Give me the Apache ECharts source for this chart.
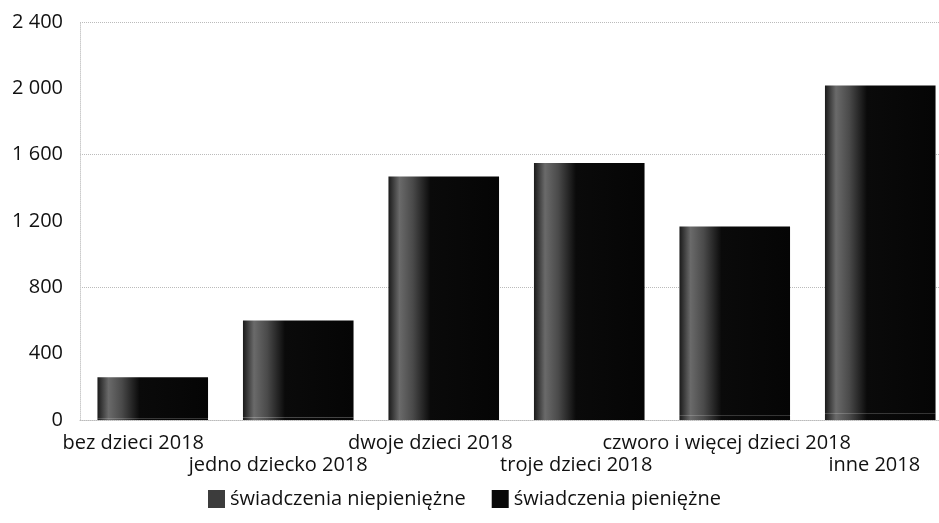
<!DOCTYPE html>
<html><head><meta charset="utf-8">
<script src="https://cdn.jsdelivr.net/npm/echarts@6/dist/echarts.min.js"></script>
<style>html,body{margin:0;padding:0;background:#fff}#c{width:939px;height:523px}</style>
</head><body><div id="c"></div>
<script>
const categories = ["bez dzieci 2018","jedno dziecko 2018","dwoje dzieci 2018","troje dzieci 2018","czworo i więcej dzieci 2018","inne 2018"];
const niepieniezne = [8, 15, 30, 30, 25, 40];
const pieniezne = [250, 585, 1439, 1520, 1142, 1977];
const yTicks = [0, 400, 800, 1200, 1600, 2000, 2400];

const labelShift = [39, 40, 27, 26, 16, 12];
const grad = new echarts.graphic.LinearGradient(0,0,1,0,[
  {offset:0,color:'#1a1a1a'},{offset:0.1,color:'#6a6a6a'},{offset:0.22,color:'#4a4a4a'},{offset:0.38,color:'#0a0a0a'},{offset:1,color:'#050505'}]);
const chart = echarts.init(document.getElementById('c'));
const fmtNum = v => String(v).replace(/\B(?=(\d{3})+(?!\d))/g,' ');
chart.setOption({
  animation:false,
  textStyle:{fontFamily:'Open Sans'},
  legend:{bottom:9,left:203,icon:'rect',itemWidth:17,itemHeight:18,itemGap:26,
    textStyle:{fontSize:20,color:'#111',fontFamily:'Open Sans'},
    data:[{name:'świadczenia niepieniężne',itemStyle:{color:'#3c3c3c'}},{name:'świadczenia pieniężne',itemStyle:{color:'#080808'}}]},
  grid:{left:80,top:22,width:873,height:398,outerBoundsMode:'none',containLabel:false},
  xAxis:{type:'category',data:categories,
    axisLine:{show:true,lineStyle:{color:'#bbb',type:'dotted'}},axisTick:{show:false},
    axisLabel:{interval:0,margin:12,color:'#111',fontSize:20,lineHeight:22,
      formatter:(v,i)=> (i%2===1?'\n':'') + '{s'+i+'|'+v+'}',
      rich:Object.fromEntries(labelShift.map((p,i)=>['s'+i,{fontSize:20,lineHeight:22,color:'#111',padding:[0,p,0,0],fontFamily:'Open Sans'}]))}},
  yAxis:[{type:'value',min:0,max:2400,interval:400,
    axisLine:{show:true,lineStyle:{color:'#ccc',type:'dotted'}},axisTick:{show:false},
    splitLine:{show:false},
    axisLabel:{color:'#111',fontSize:20,margin:17,formatter:v=>fmtNum(v)}},
   {type:'value',min:0,max:2400,interval:800,position:'left',axisLabel:{show:false},axisLine:{show:false},axisTick:{show:false},
    splitLine:{show:true,lineStyle:{color:'#bbb',type:'dotted',width:1}}}],
  series:[
    {name:'świadczenia niepieniężne',type:'bar',stack:'a',data:niepieniezne,barCategoryGap:'24%',itemStyle:{color:grad}},
    {name:'świadczenia pieniężne',type:'bar',stack:'a',data:pieniezne,barCategoryGap:'24%',itemStyle:{color:grad}}
  ]
});
</script></body></html>
